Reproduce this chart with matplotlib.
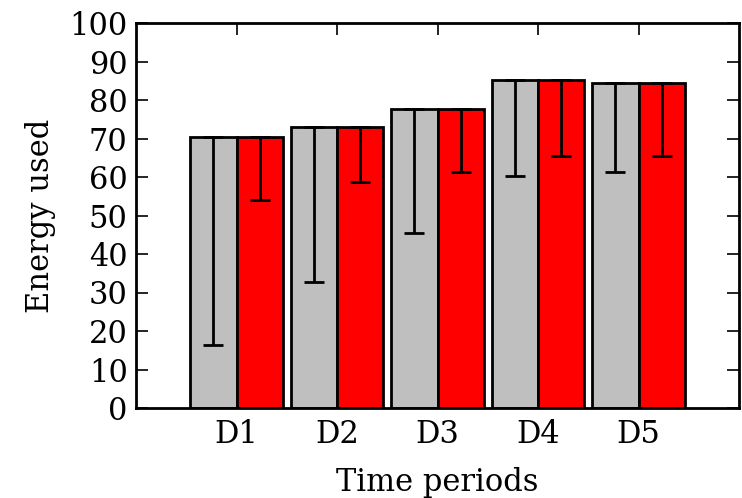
import matplotlib
matplotlib.use("Agg")
import matplotlib.pyplot as plt
import numpy as np

periods = ["D1", "D2", "D3", "D4", "D5"]
energy = [70.5, 73.1, 77.6, 85.2, 84.5]
grey_low = [16.4, 32.7, 45.4, 60.3, 61.4]
red_low = [54.0, 58.6, 61.2, 65.5, 65.5]
yticks = list(range(0, 101, 10))

plt.rcParams["font.family"] = "DejaVu Serif"
plt.rcParams["font.size"] = 22

fig = plt.figure(figsize=(7.42, 4.98), dpi=100)
ax = fig.add_axes([136 / 742, 1 - 408 / 498, (739 - 136) / 742, (408 - 23) / 498])

x = np.arange(1, len(periods) + 1)
w = 0.46
e = np.array(energy)
grey_err = [e - np.array(grey_low), np.zeros_like(e)]
red_err = [e - np.array(red_low), np.zeros_like(e)]

ekw = dict(elinewidth=2, capthick=2, ecolor="black")
ax.bar(x - w / 2, energy, w, color="#bfbfbf", edgecolor="black", linewidth=2,
       yerr=grey_err, capsize=7, error_kw=ekw, zorder=2)
ax.bar(x + w / 2, energy, w, color="#ff0000", edgecolor="black", linewidth=2,
       yerr=red_err, capsize=7, error_kw=ekw, zorder=2)

ax.set_xlim(0, 6)
ax.set_ylim(0, 100)
ax.set_xticks(x)
ax.set_xticklabels(periods)
ax.set_yticks(yticks)
ax.tick_params(direction="in", length=8.5, width=1.2, top=True, right=True, pad=8)
ax.tick_params(axis="y", pad=6)
for s in ax.spines.values():
    s.set_linewidth(2)

ax.set_xlabel("Time periods", labelpad=12)
ax.set_ylabel("Energy used", labelpad=10)

fig.savefig("out.png", dpi=100)
